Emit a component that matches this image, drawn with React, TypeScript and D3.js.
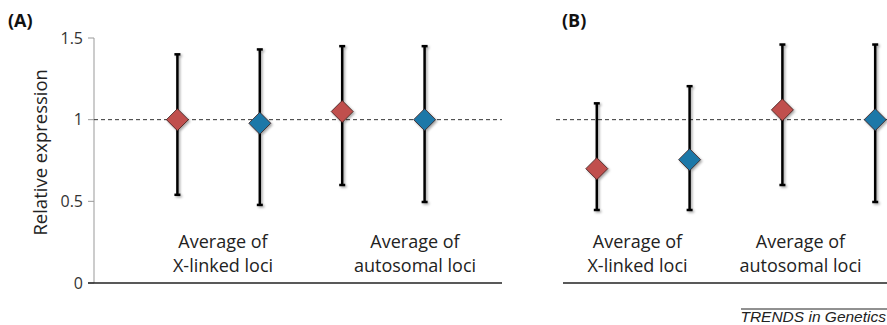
import * as d3 from 'd3';

// values
const categories = ['Average of X-linked loci', 'Average of autosomal loci'];
const categoryLines = [
  ['Average of', 'X-linked loci'],
  ['Average of', 'autosomal loci'],
];
const series = ['x-red', 'x-blue', 'auto-red', 'auto-blue'];
const seriesColors = ['#c0504d', '#1f78a8', '#c0504d', '#1f78a8'];

const meanA = [1.0, 0.978, 1.05, 1.0];
const lowA = [0.54, 0.478, 0.6, 0.496];
const highA = [1.4, 1.43, 1.45, 1.45];

const meanB = [0.7, 0.755, 1.06, 1.0];
const lowB = [0.447, 0.447, 0.6, 0.496];
const highB = [1.1, 1.205, 1.46, 1.46];

const yTicks = [0, 0.5, 1, 1.5];

const W = 887;
const H = 325;
const font = '"Open Sans", sans-serif';

const y = d3.scaleLinear().domain([0, 1.5]).range([283, 38]);

function Panel({ mean, low, high, pointRange, labelRange, axisX, dashX, showAxis, tag, tagX }) {
  const x = d3.scalePoint().domain(series).range(pointRange).padding(1);
  const cx = d3.scalePoint().domain(categories).range(labelRange).padding(0.5);
  const d = 11;
  return (
    <g>
      <text x={tagX} y={27} fontFamily={font} fontWeight="bold" fontSize={18} fill="#111">
        {tag}
      </text>
      {showAxis && (
        <g>
          <line x1={axisX[0] + 6} x2={axisX[0] + 6} y1={y(1.5)} y2={y(0)} stroke="#999" strokeWidth={1} />
          {yTicks.map((t) => (
            <g key={t}>
              <line x1={axisX[0]} x2={axisX[0] + 6} y1={y(t)} y2={y(t)} stroke="#999" />
              <text x={axisX[0] - 5} y={y(t)} dy="0.35em" textAnchor="end" fontFamily={font} fontSize={16} fill="#333">
                {t}
              </text>
            </g>
          ))}
          <text
            transform={`translate(47,${y(0.8)}) rotate(-90)`}
            textAnchor="middle"
            fontFamily={font}
            fontSize={18.5}
            fill="#222"
          >
            Relative expression
          </text>
        </g>
      )}
      <line x1={axisX[0]} x2={axisX[1]} y1={y(0)} y2={y(0)} stroke="#222" strokeWidth={1.5} />
      <line x1={dashX[0]} x2={dashX[1]} y1={y(1)} y2={y(1)} stroke="#333" strokeWidth={1} strokeDasharray="4,3" />
      {categories.map((c, i) => (
        <text key={c} x={cx(c)} textAnchor="middle" fontFamily={font} fontSize={18} fill="#222">
          <tspan x={cx(c)} y={248}>{categoryLines[i][0]}</tspan>
          <tspan x={cx(c)} y={272}>{categoryLines[i][1]}</tspan>
        </text>
      ))}
      <g filter="url(#shadow)">
        {series.map((s, i) => (
          <g key={s}>
            <line x1={x(s)} x2={x(s)} y1={y(low[i])} y2={y(high[i])} stroke="#000" strokeWidth={2.5} />
            <line x1={x(s) - 3} x2={x(s) + 3} y1={y(low[i])} y2={y(low[i])} stroke="#000" strokeWidth={2.5} />
            <line x1={x(s) - 3} x2={x(s) + 3} y1={y(high[i])} y2={y(high[i])} stroke="#000" strokeWidth={2.5} />
          </g>
        ))}
        {series.map((s, i) => {
          const px = x(s);
          const py = y(mean[i]);
          return (
            <path
              key={s}
              d={`M${px},${py - d}L${px + d},${py}L${px},${py + d}L${px - d},${py}Z`}
              fill={seriesColors[i]}
              stroke="#3a1a18"
              strokeWidth={0.8}
            />
          );
        })}
      </g>
    </g>
  );
}

export default function App() {
  return (
    <svg
      width={W}
      height={H}
      style={{ position: 'absolute', left: 0, top: 0, background: '#fff' }}
    >
      <defs>
        <filter id="shadow" x="-50%" y="-20%" width="200%" height="140%">
          <feDropShadow dx={1.5} dy={1.5} stdDeviation={1.2} floodColor="#000" floodOpacity={0.35} />
        </filter>
      </defs>
      <Panel
        mean={meanA}
        low={lowA}
        high={highA}
        pointRange={[95, 507]}
        labelRange={[127, 511]}
        axisX={[88, 502]}
        dashX={[94, 502]}
        showAxis
        tag="(A)"
        tagX={8}
      />
      <Panel
        mean={meanB}
        low={lowB}
        high={highB}
        pointRange={[504, 968]}
        labelRange={[556, 882]}
        axisX={[563, 890]}
        dashX={[556, 890]}
        showAxis={false}
        tag="(B)"
        tagX={562}
      />
      <line x1={741} x2={887} y1={309} y2={309} stroke="#222" strokeWidth={1} />
      <text x={886} y={322} textAnchor="end" fontFamily="'Liberation Sans', Arial, sans-serif" fontStyle="italic" fontSize={15.5} fill="#222">
        TRENDS in Genetics
      </text>
    </svg>
  );
}
